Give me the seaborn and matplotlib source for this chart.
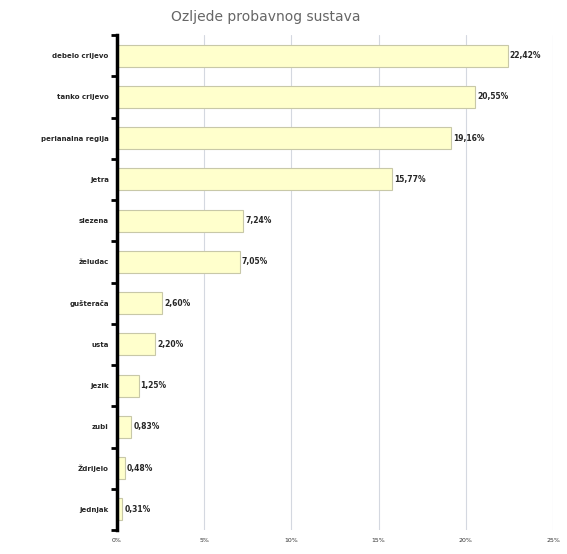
import matplotlib
matplotlib.use("Agg")
import matplotlib.pyplot as plt
import seaborn as sns
import pandas as pd
import numpy as np

categories = ["debelo crijevo", "tanko crijevo", "perianalna regija", "jetra",
              "slezena", "želudac", "gušterača", "usta", "jezik", "zubi",
              "Ždrijelo", "jednjak"]
values = [22.42, 20.55, 19.16, 15.77, 7.24, 7.05, 2.60, 2.20, 1.25, 0.83, 0.48, 0.31]
value_labels = ["22,42%", "20,55%", "19,16%", "15,77%", "7,24%", "7,05%", "2,60%",
                "2,20%", "1,25%", "0,83%", "0,48%", "0,31%"]
xticks = [0, 5, 10, 15, 20, 25]
xtick_labels = ["0%", "5%", "10%", "15%", "20%", "25%"]
title = "Ozljede probavnog sustava"

sns.set_style("white")
plt.rcParams['font.family'] = ['DejaVu Sans']

df = pd.DataFrame({"kat": categories, "val": values})

fig = plt.figure(figsize=(5.67, 5.54), dpi=100)
ax = fig.add_axes([117/567, 1 - 530/554, (553-117)/567, (530-35)/554])

sns.barplot(data=df, y="kat", x="val", orient="h", ax=ax,
            color="#FFFFCC", edgecolor="#C8C8A8", linewidth=0.8,
            width=0.53, saturation=1)

ax.set_xlim(0, 25)
ax.set_ylim(len(categories) - 0.5, -0.5)
ax.set_xticks(xticks)
ax.set_xticklabels(xtick_labels, fontsize=4.5, color="#333333")
ax.set_xlabel("")
ax.set_ylabel("")
ax.tick_params(axis="x", length=0, pad=6)
ax.set_yticks(range(len(categories)))
ax.set_yticklabels(categories, fontsize=5, fontweight="bold")
ax.tick_params(axis="y", which="major", left=False, length=0, pad=6)
ax.set_yticks(np.arange(-0.5, len(categories), 1), minor=True)
ax.tick_params(axis="y", which="minor", left=True, length=4, width=2,
               direction="out", color="black")

ax.grid(axis="x", color="#D4D8E0", linewidth=0.8)
ax.set_axisbelow(True)
for s in ["top", "right", "bottom"]:
    ax.spines[s].set_visible(False)
ax.spines["left"].set_linewidth(2.5)
ax.spines["left"].set_color("black")

for i, (v, lab) in enumerate(zip(values, value_labels)):
    ax.text(v + 0.1, i, lab, va="center", ha="left", fontsize=5.5, fontweight="bold")

fig.text(266/567, 1 - 17/554, title, ha="center", va="center",
         fontsize=10, color="#666666")

fig.savefig("out.png", dpi=100)
